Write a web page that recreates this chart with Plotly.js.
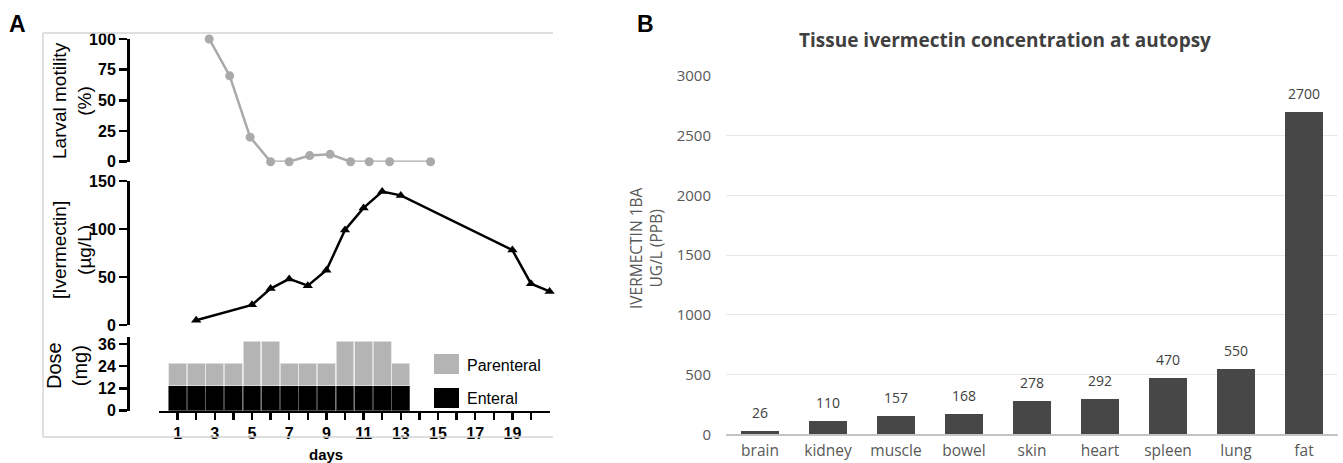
<!DOCTYPE html>
<html>
<head>
<meta charset="utf-8">
<script src="https://cdn.plot.ly/plotly-3.0.1.min.js"></script>
<style>html,body{margin:0;padding:0;background:#fff;}#chart{width:1343px;height:463px;}</style>
</head>
<body>
<div id="chart"></div>
<script>
// ---------- Panel A data ----------
const larvalDays = [2.7, 3.8, 4.9, 6, 7, 8.1, 9.2, 10.3, 11.3, 12.4, 14.6];
const larvalMotility = [100, 70, 20, 0, 0, 5, 6, 0, 0, 0, 0];

const ivermectinDays = [2, 5, 6, 7, 8, 9, 10, 11, 12, 13, 19, 20, 21];
const ivermectinConc = [5, 21, 38, 48, 41, 57, 99, 122, 139, 135, 78, 43, 35];

const doseDays = [1, 2, 3, 4, 5, 6, 7, 8, 9, 10, 11, 12, 13];
const enteralDose = [13.5, 13.5, 13.5, 13.5, 13.5, 13.5, 13.5, 13.5, 13.5, 13.5, 13.5, 13.5, 13.5];
const parenteralDose = [12, 12, 12, 12, 24, 24, 12, 12, 12, 24, 24, 24, 12];

const dayTickVals = [1, 2, 3, 4, 5, 6, 7, 8, 9, 10, 11, 12, 13, 14, 15, 16, 17, 18, 19, 20];
const dayTickText = ['1', '', '3', '', '5', '', '7', '', '9', '', '11', '', '13', '', '15', '', '17', '', '19', ''];
const larvalTicks = [0, 25, 50, 75, 100];
const ivermectinTicks = [0, 50, 100, 150];
const doseTicks = [0, 12, 24, 36];

// ---------- Panel B data ----------
const tissues = ['brain', 'kidney', 'muscle', 'bowel', 'skin', 'heart', 'spleen', 'lung', 'fat'];
const tissueConc = [26, 110, 157, 168, 278, 292, 470, 550, 2700];

// ---------- layout helpers ----------
const W = 1343, H = 463;
const px = x => x / W;
const py = y => 1 - y / H;
const FA = 'Liberation Sans, Arial, Helvetica, sans-serif';
const FB = 'Open Sans, Lato, DejaVu Sans, sans-serif';
const BGRAY = '#595959';

const traces = [
  {
    type: 'scatter', mode: 'lines+markers', x: larvalDays, y: larvalMotility,
    xaxis: 'x', yaxis: 'y', cliponaxis: false,
    line: {color: '#aaaaaa', width: 2.5}, marker: {color: '#aaaaaa', size: 9, symbol: 'circle'},
    hoverinfo: 'x+y'
  },
  {
    type: 'scatter', mode: 'lines+markers', x: ivermectinDays, y: ivermectinConc,
    xaxis: 'x', yaxis: 'y2', cliponaxis: false,
    line: {color: '#000000', width: 2.5}, marker: {color: '#000000', size: 9, symbol: 'triangle-up'},
    hoverinfo: 'x+y'
  },
  {
    type: 'bar', name: 'Enteral', x: doseDays, y: enteralDose, xaxis: 'x', yaxis: 'y3', width: 0.96,
    marker: {color: '#000000', line: {color: '#555555', width: 0.8}}
  },
  {
    type: 'bar', name: 'Parenteral', x: doseDays, y: parenteralDose, xaxis: 'x', yaxis: 'y3', width: 0.96,
    marker: {color: '#b4b4b4', line: {color: '#e6e6e6', width: 0.8}}
  },
  {
    type: 'bar', x: tissues, y: tissueConc, xaxis: 'x2', yaxis: 'y4', width: 0.55,
    marker: {color: '#474747'}
  }
];

const yAxisA = (dom, rng, ticks) => ({
  domain: dom, range: rng, anchor: 'free', position: px(128),
  showline: true, linecolor: '#000', linewidth: 2.5,
  ticks: 'outside', ticklen: 8, tickwidth: 2.5, tickcolor: '#000',
  tickvals: ticks, tickfont: {family: FA, size: 16, color: '#000', weight: 'bold'},
  showgrid: false, zeroline: false, fixedrange: true
});

const ann = (text, x, y, font, extra) => Object.assign({
  text: text, x: px(x), y: py(y), xref: 'paper', yref: 'paper', showarrow: false,
  xanchor: 'center', yanchor: 'middle', borderpad: 0, font: font
}, extra || {});

const annotations = [
  ann('<b>A</b>', 17, 24, {family: FA, size: 23, color: '#000'}),
  ann('<b>B</b>', 645, 24, {family: FA, size: 23, color: '#000'}),
  ann('Larval motility<br>(%)', 72, 101, {family: FA, size: 19, color: '#000'}, {textangle: -90}),
  ann('[Ivermectin]<br>(µg/L)', 72, 250, {family: FA, size: 19, color: '#000'}, {textangle: -90}),
  ann('Dose<br>(mg)', 67, 366, {family: FA, size: 20, color: '#000'}, {textangle: -90}),
  ann('<b>days</b>', 326, 454, {family: FA, size: 15, color: '#000'}),
  ann('Parenteral', 466, 365, {family: FA, size: 16, color: '#000'}, {xanchor: 'left'}),
  ann('Enteral', 466, 398, {family: FA, size: 16, color: '#000'}, {xanchor: 'left'}),
  ann('<b>Tissue ivermectin concentration at autopsy</b>', 1005, 40, {family: FB, size: 19, color: '#404040'}),
  ann('IVERMECTIN 1BA<br>UG/L (PPB)', 646, 248, {family: FB, size: 15.5, color: BGRAY}, {textangle: -90})
];
tissues.forEach((t, i) => {
  annotations.push({
    text: String(tissueConc[i]), x: t, y: tissueConc[i], xref: 'x2', yref: 'y4',
    xanchor: 'center', yanchor: 'bottom', yshift: 7, showarrow: false,
    font: {family: FB, size: 14, color: '#404040'}
  });
});

const shapes = [
  // panel A light frame
  {type: 'line', xref: 'paper', yref: 'paper', x0: px(43), x1: px(553), y0: py(33), y1: py(33), line: {color: '#d4d4d4', width: 1.5}},
  {type: 'line', xref: 'paper', yref: 'paper', x0: px(43), x1: px(43), y0: py(33), y1: py(437), line: {color: '#d4d4d4', width: 1.5}},
  {type: 'line', xref: 'paper', yref: 'paper', x0: px(43), x1: px(553), y0: py(437), y1: py(437), line: {color: '#d4d4d4', width: 1.5}},
  // legend swatches
  {type: 'rect', xref: 'paper', yref: 'paper', x0: px(434), x1: px(459), y0: py(374), y1: py(354), fillcolor: '#b4b4b4', line: {width: 0}},
  {type: 'rect', xref: 'paper', yref: 'paper', x0: px(434), x1: px(459), y0: py(408), y1: py(388), fillcolor: '#000000', line: {width: 0}}
];

const layout = {
  width: W, height: H,
  margin: {l: 0, r: 0, t: 0, b: 0},
  paper_bgcolor: '#ffffff', plot_bgcolor: 'rgba(0,0,0,0)',
  showlegend: false, barmode: 'stack',
  font: {family: FA},
  xaxis: {
    domain: [px(159), px(549.6)], range: [0, 21], anchor: 'y3',
    showline: true, linecolor: '#000', linewidth: 2.5,
    ticks: 'outside', ticklen: 7, tickwidth: 2.5, tickcolor: '#000',
    tickvals: dayTickVals, ticktext: dayTickText,
    tickfont: {family: FA, size: 16, color: '#000', weight: 'bold'},
    showgrid: false, zeroline: false, fixedrange: true
  },
  yaxis: yAxisA([py(161.7), py(39)], [0, 100], larvalTicks),
  yaxis2: yAxisA([py(325), py(181)], [0, 150], ivermectinTicks),
  yaxis3: yAxisA([py(410.7), py(336.6)], [0, 40], doseTicks),
  xaxis2: {
    domain: [px(726), px(1338)], anchor: 'y4', type: 'category', range: [-0.5, 8.5],
    showline: true, linecolor: '#c4c4c4', linewidth: 1.5, ticks: '', ticklabelstandoff: 2,
    tickfont: {family: FB, size: 15.5, color: BGRAY},
    showgrid: false, zeroline: false, fixedrange: true
  },
  yaxis4: {
    domain: [py(434.3), py(76)], anchor: 'x2', range: [0, 3000], tick0: 0, dtick: 500,
    showline: false, ticks: '', ticklabelstandoff: 14,
    tickfont: {family: FB, size: 15, color: BGRAY},
    showgrid: true, gridcolor: '#e8e8e8', gridwidth: 1, zeroline: false, fixedrange: true
  },
  annotations: annotations,
  shapes: shapes
};

Plotly.newPlot('chart', traces, layout, {displayModeBar: false, staticPlot: true});
</script>
</body>
</html>
